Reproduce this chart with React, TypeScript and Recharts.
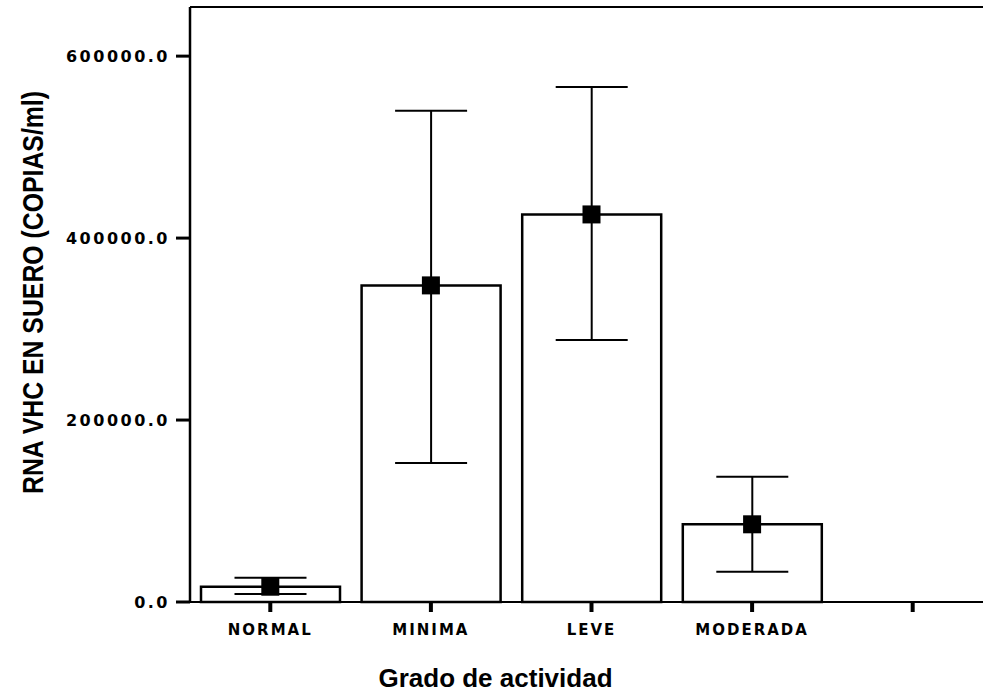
import React from 'react';
import {
  ComposedChart, Bar, Line, ErrorBar, XAxis, YAxis, ReferenceLine, Label,
} from 'recharts';

const categories = ['NORMAL', 'MINIMA', 'LEVE', 'MODERADA', ''];
const means = [16800, 348000, 426000, 85400, null];
const lower = [8800, 152700, 288000, 33300, null];
const upper = [26700, 540000, 566000, 137700, null];
const yTicks = [0, 200000, 400000, 600000];
const yMax = 654000;

const data = categories.map((name, i) => ({
  name,
  mean: means[i],
  err: means[i] == null ? undefined : [means[i]! - lower[i]!, upper[i]! - means[i]!],
}));

const tickFont = { fontFamily: 'DejaVu Sans', fill: '#000' };

const SquareDot = (props: any) => {
  const { cx, cy, value, index } = props;
  if (value == null || cx == null || cy == null) return <g key={`d${index}`} />;
  return <rect key={`d${index}`} x={cx - 9} y={cy - 9} width={18} height={18} fill="#000" />;
};

const YTitle = (props: any) => {
  const vb = props.viewBox || {};
  const cy = vb.y + vb.height / 2 - 12;
  return (
    <text
      x={43}
      y={cy}
      transform={`rotate(-90, 43, ${cy})`}
      textAnchor="middle"
      fontFamily="Liberation Sans, Arial, sans-serif"
      fontSize={30}
      fontWeight="bold"
      textLength={403}
      lengthAdjust="spacingAndGlyphs"
      fill="#000"
    >
      RNA VHC EN SUERO (COPIAS/ml)
    </text>
  );
};

export default function App() {
  return (
    <div style={{ position: 'absolute', left: 0, top: 0, width: 983, height: 695, overflow: 'hidden', background: '#fff' }}>
      <ComposedChart width={1000} height={695} data={data} margin={{ top: 7, right: 7, left: 0, bottom: 0 }}>
        <XAxis
          dataKey="name"
          height={93}
          interval={0}
          tickSize={10}
          tickMargin={12}
          axisLine={{ stroke: '#000', strokeWidth: 2 }}
          tickLine={{ stroke: '#000', strokeWidth: 4 }}
          tick={{ ...tickFont, fontSize: 15, fontWeight: 'bold', letterSpacing: 2 }}
        >
          <Label
            value="Grado de actividad"
            position="insideBottom"
            offset={8}
            dx={-96}
            style={{ fontFamily: 'Liberation Sans, Arial, sans-serif', fontSize: 26, fontWeight: 'bold', fill: '#000' }}
          />
        </XAxis>
        <YAxis
          width={190}
          domain={[0, yMax]}
          ticks={yTicks}
          tickSize={14}
          tickMargin={6}
          tickFormatter={(v: number) => v.toFixed(1)}
          axisLine={{ stroke: '#000', strokeWidth: 2.5 }}
          tickLine={{ stroke: '#000', strokeWidth: 3 }}
          tick={{ ...tickFont, fontSize: 16, fontWeight: 'bold', letterSpacing: 2.5 }}
        >
          <Label content={<YTitle />} />
        </YAxis>
        <ReferenceLine y={yMax} stroke="#000" strokeWidth={2} />
        <Bar dataKey="mean" barSize={139} fill="#fff" stroke="#000" strokeWidth={2.5} isAnimationActive={false}>
          <ErrorBar dataKey="err" width={36} stroke="#000" strokeWidth={2} direction="y" />
        </Bar>
        <Line dataKey="mean" stroke="none" dot={SquareDot} activeDot={false} isAnimationActive={false} />
      </ComposedChart>
    </div>
  );
}
